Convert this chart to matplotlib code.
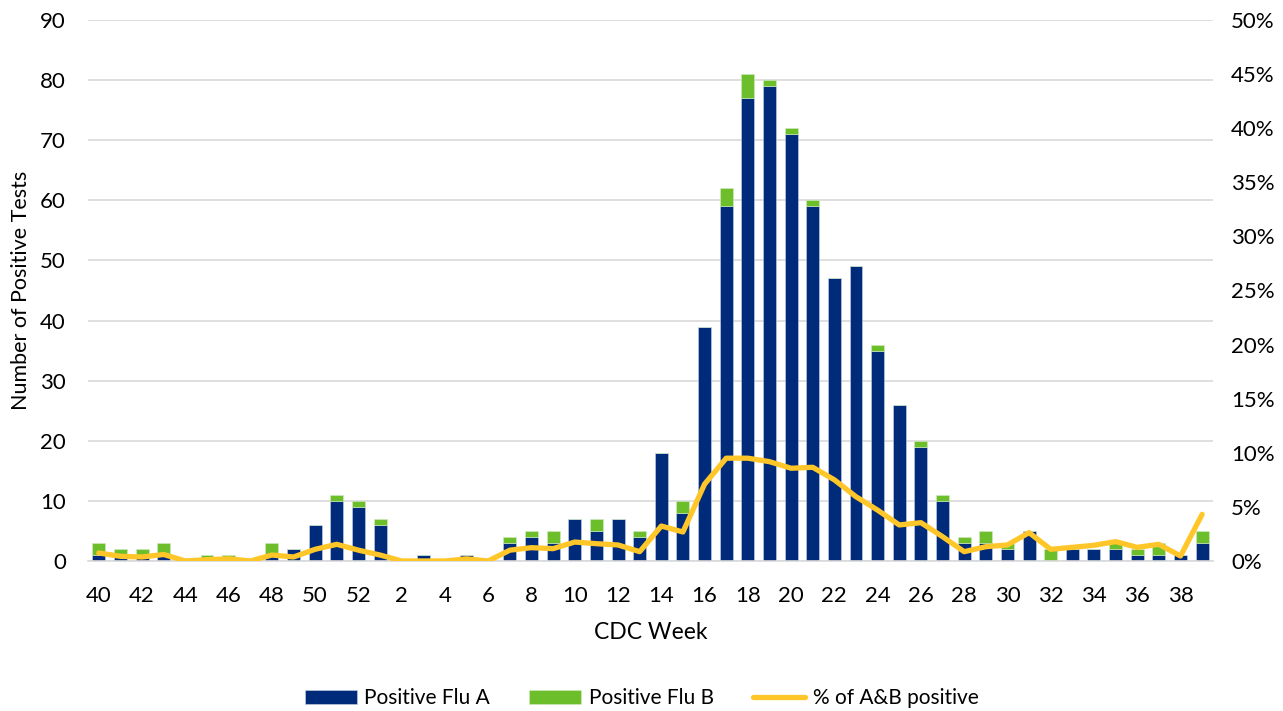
import numpy as np
import matplotlib
matplotlib.use('Agg')
from matplotlib import pyplot as plt
from matplotlib.ticker import PercentFormatter

plt.rcParams['font.family'] = ['Lato', 'DejaVu Sans']

weeks = list(range(40, 53)) + list(range(1, 40))
flu_a = [1, 1, 1, 1, 0, 0, 0, 0, 1, 2, 6, 10, 9,
         6, 0, 1, 0, 1, 0, 3, 4, 3, 7, 5, 7, 4, 18, 8, 39,
         59, 77, 79, 71, 59, 47, 49, 35, 26, 19, 10, 3, 3, 2,
         5, 0, 2, 2, 2, 1, 1, 1, 3]
flu_b = [2, 1, 1, 2, 0, 1, 1, 0, 2, 0, 0, 1, 1,
         1, 0, 0, 0, 0, 0, 1, 1, 2, 0, 2, 0, 1, 0, 2, 0,
         3, 4, 1, 1, 1, 0, 0, 1, 0, 1, 1, 1, 2, 1,
         0, 2, 0, 0, 1, 1, 2, 0, 2]
pct_pos = [0.74, 0.43, 0.37, 0.6, 0.0, 0.12, 0.2, 0.0, 0.55, 0.37, 1.08, 1.54, 1.0,
           0.55, 0.0, 0.0, 0.0, 0.2, 0.0, 1.0, 1.23, 1.14, 1.75, 1.6, 1.48, 0.86, 3.23, 2.68, 7.1,
           9.5, 9.5, 9.18, 8.57, 8.66, 7.5, 5.94, 4.7, 3.33, 3.54, 2.25, 0.86, 1.32, 1.48,
           2.62, 1.08, 1.26, 1.45, 1.79, 1.26, 1.54, 0.46, 4.31]

blue = '#002A7A'
green = '#6CBE2A'
yellow = '#FFC629'

fig = plt.figure(figsize=(12.83, 7.11), dpi=100)
ax = fig.add_axes([0.0686, 0.211, 0.8768, 0.7609])
x = np.arange(len(weeks))

b1 = ax.bar(x, flu_a, width=0.6, color=blue, edgecolor='#c9d3e6', linewidth=0.4, zorder=2)
b2 = ax.bar(x, flu_b, width=0.6, bottom=flu_a, color=green, edgecolor='#d5ecc4', linewidth=0.4, zorder=2)
ax.set_ylim(0, 90)
ax.set_yticks(range(0, 91, 10))
ax.set_xlim(-0.5, len(weeks) - 0.5)
ax.set_xticks(x[::2])
ax.set_xticklabels([str(w) for w in weeks[::2]])
ax.grid(axis='y', color='#d9d9d9', linewidth=1.2, zorder=0)
ax.set_axisbelow(True)
for s in ['top', 'right', 'left']:
    ax.spines[s].set_visible(False)
ax.spines['bottom'].set_color('#d9d9d9')
ax.spines['bottom'].set_linewidth(1.2)
ax.tick_params(length=0, labelsize=16, colors='#000000')
ax.tick_params(axis='x', pad=18)
ax.tick_params(axis='y', pad=16)
ax.set_ylabel('Number of Positive Tests', fontsize=15.5)
ax.yaxis.set_label_coords(-0.051, 0.5)
ax.set_xlabel('CDC Week', fontsize=16.5)
ax.xaxis.set_label_coords(0.5, -0.112)

ax2 = ax.twinx()
l1, = ax2.plot(x, pct_pos, color=yellow, linewidth=3.8, solid_joinstyle='round',
               solid_capstyle='round', zorder=3)
ax2.set_ylim(0, 50)
ax2.set_yticks(range(0, 51, 5))
ax2.yaxis.set_major_formatter(PercentFormatter(decimals=0))
for s in ['top', 'right', 'left', 'bottom']:
    ax2.spines[s].set_visible(False)
ax2.tick_params(length=0, labelsize=16, pad=13)

fig.legend([b1, b2, l1], ['Positive Flu A', 'Positive Flu B', '% of A&B positive'],
           loc='center', bbox_to_anchor=(0.5, 0.018), ncol=3, frameon=False,
           fontsize=15, handlelength=2.5, handleheight=0.67, handletextpad=0.35,
           columnspacing=1.9)

plt.savefig('out.png', dpi=100)
